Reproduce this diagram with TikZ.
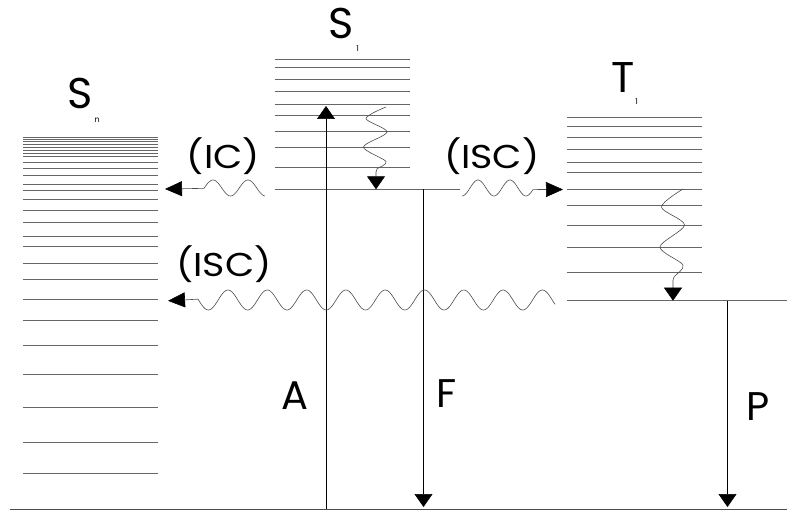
\documentclass[tikz,border=0pt]{standalone}
\usepackage{fontspec}
\setmainfont{Poppins}
\usetikzlibrary{arrows.meta}
\tikzset{
  lvl/.style={draw=black!60, line width=0.8pt},
  ground/.style={draw=black!70, line width=1.2pt},
  vline/.style={draw=black, line width=0.7pt},
  wavy/.style={draw=black!70, line width=0.6pt},
  vtip/.style={-{Triangle[length=13pt,width=18pt,color=black]}},
  htip/.style={-{Triangle[length=17pt,width=15pt,color=black]}},
  big/.style={inner sep=0pt, font=\fontsize{43}{43}\selectfont},
  mid/.style={inner sep=0pt, font=\fontsize{40}{40}\selectfont},
  lab/.style={inner sep=0pt, xscale=1.15, font=\fontsize{33}{33}\selectfont},
  sub/.style={inner sep=0pt, font=\fontsize{8}{8}\selectfont},
}
\begin{document}
\begin{tikzpicture}[x=1pt,y=-1pt]
\useasboundingbox (0,0) rectangle (787,510);
% S_n levels
\foreach \y in {137.5,139.3,141.3,144,147.5,150.5,153,156.3,162,168.5,175.3,184.2,190.5,199.5,210.5,222.5,236,246,263,279.2,299.4,320.7,345.3,374.3,407,442.3,473.7}
  \draw[lvl] (23,\y) -- (158,\y);
% S_1 levels
\foreach \y in {59,67.7,79.3,91,104.3,115,131,147.7,167.3}
  \draw[lvl] (275,\y) -- (410,\y);
\draw[lvl] (275,189.3) -- (460,189.3);
% T_1 levels
\foreach \y in {117.3,126,137.3,149.3,162,172.7,189,205.7,225.7,247,272}
  \draw[lvl] (567,\y) -- (702,\y);
\draw[lvl] (567,300.7) -- (787,300.7);
% ground
\draw[ground] (10,509.3) -- (787,509.3);

% coordinates
\coordinate (Abot) at (326,509);
\coordinate (Atop) at (326,106);
\coordinate (Fstart) at (423.5,189.3);
\coordinate (Fend) at (423.5,507);
\coordinate (Pstart) at (727.5,300.7);
\coordinate (Pend) at (727.5,507);
\coordinate (ICtip) at (165,189);
\coordinate (ISCtipR) at (563,189.5);
\coordinate (ISCtipL) at (168,300.8);
\coordinate (S1tip) at (376,189.3);
\coordinate (T1tip) at (673,300.7);

% radiative transitions
\draw[vline,vtip] (Abot) -- (Atop);
\draw[vline,vtip] (Fstart) -- (Fend);
\draw[vline,vtip] (Pstart) -- (Pend);

% IC wave
\draw[wavy,htip] plot[domain=265:204,samples=70] (\x,{188-8*cos((\x-213)/35*360)}) -- (ICtip);
% ISC wave right
\draw[wavy,htip] plot[domain=462:533,samples=70] (\x,{188-8*cos((\x-478)/32*360)}) -- (ISCtipR);
% long ISC wave
\draw[wavy,htip] plot[domain=555:198,samples=300] (\x,{300-10*cos((\x-228)/39.3*360)}) -- (ISCtipL);
% vibrational relaxation in S1
\draw[wavy,vtip] plot[smooth] coordinates {(386,107) (366,118.5) (387,132) (363.5,147) (386,161.5) (377,169) (376,174)} -- (S1tip);
% vibrational relaxation in T1
\draw[wavy,vtip] plot[smooth] coordinates {(683,189) (661.5,207) (684.5,225) (660,247) (683,265) (674,277) (673,282)} -- (T1tip);

% labels
\node[big] (Sn) at (80.5,93) {S};
\node[sub] (Snsub) at (97.3,120.7) {n};
\node[big] (S1) at (341,23.5) {S};
\node[sub] (S1sub) at (357.7,49) {1};
\node[big] (T1) at (623,78) {T};
\node[sub] (T1sub) at (636.7,101.7) {1};
\node[mid] (Alab) at (295,396) {A};
\node[mid] (Flab) at (447,394) {F};
\node[mid] (Plab) at (758,407) {P};
\node[lab] (IClab) at (223.5,156.5) {(IC)};
\node[lab] (ISCR) at (491.7,156.5) {(ISC)};
\node[lab] (ISCL) at (224,264) {(ISC)};
\end{tikzpicture}
\end{document}
